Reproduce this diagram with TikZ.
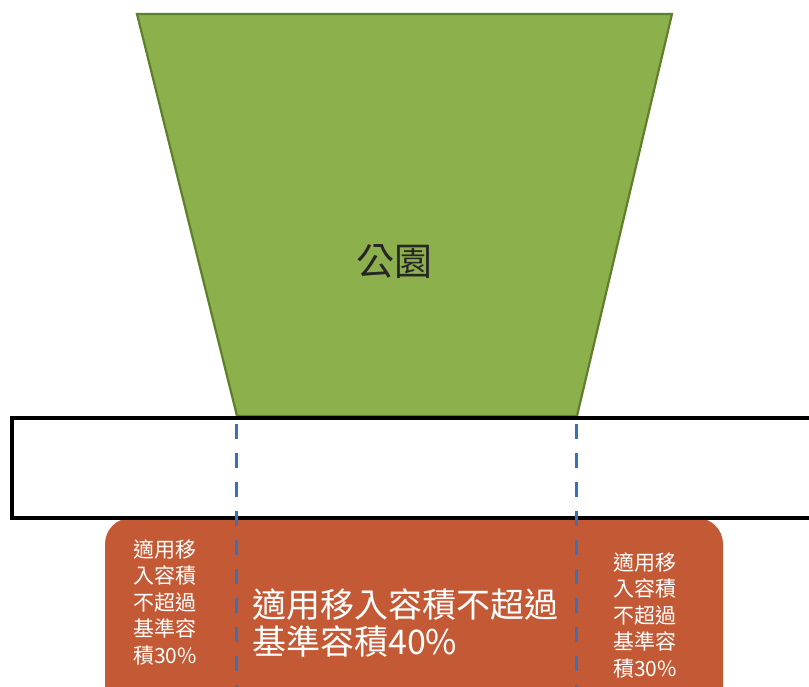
\documentclass[tikz,border=0pt]{standalone}
\usepackage{fontspec}
\setmainfont{Noto Sans CJK TC}
\definecolor{parkgreen}{HTML}{8CB04C}
\definecolor{parkedge}{HTML}{5F7F2A}
\definecolor{zonered}{HTML}{C45A35}
\definecolor{dashblue}{HTML}{3B6FB8}
\tikzset{
  sidetext/.style={text=white, align=left, font=\fontsize{21}{26.5}\selectfont, inner sep=0pt},
  maintext/.style={text=white, align=left, font=\fontsize{34}{37}\selectfont, inner sep=0pt},
  bluedash/.style={draw=dashblue, line width=3pt, dash pattern=on 15pt off 14pt, dash phase=-6pt},
}
\begin{document}
\begin{tikzpicture}[x=1pt,y=-1pt]
\useasboundingbox (0,0) rectangle (809,687);
\clip (0,0) rectangle (809,687);
% park trapezoid
\path[fill=parkgreen, draw=parkedge, line width=2.2pt]
  (137,14) -- (672,14) -- (577,416) -- (237,416) -- cycle;
\node[text=black!85] (park) at (394,262) {\fontsize{38}{42}\selectfont 公園};
% red zone
\path[fill=zonered, rounded corners=26pt] (105,518) rectangle (723,720);
% strip rectangle
\node[draw=black, line width=3.5pt, minimum width=820pt, minimum height=100pt, anchor=north west, inner sep=0pt] (strip) at (10,416) {};
% dashed boundaries
\coordinate (dl1) at (236,418);
\coordinate (dl2) at (236,687);
\coordinate (dr1) at (576,418);
\coordinate (dr2) at (576,687);
\draw[bluedash] (dl1) -- (dl2);
\draw[bluedash] (dr1) -- (dr2);
% texts
\node[sidetext] (lt) at (165,602) {適用移\\入容積\\不超過\\基準容\\積30\%};
\node[sidetext] (rt) at (645,615) {適用移\\入容積\\不超過\\基準容\\積30\%};
\node[maintext, anchor=west] (mt) at (252,623) {適用移入容積不超過\\基準容積40\%};
\end{tikzpicture}
\end{document}
